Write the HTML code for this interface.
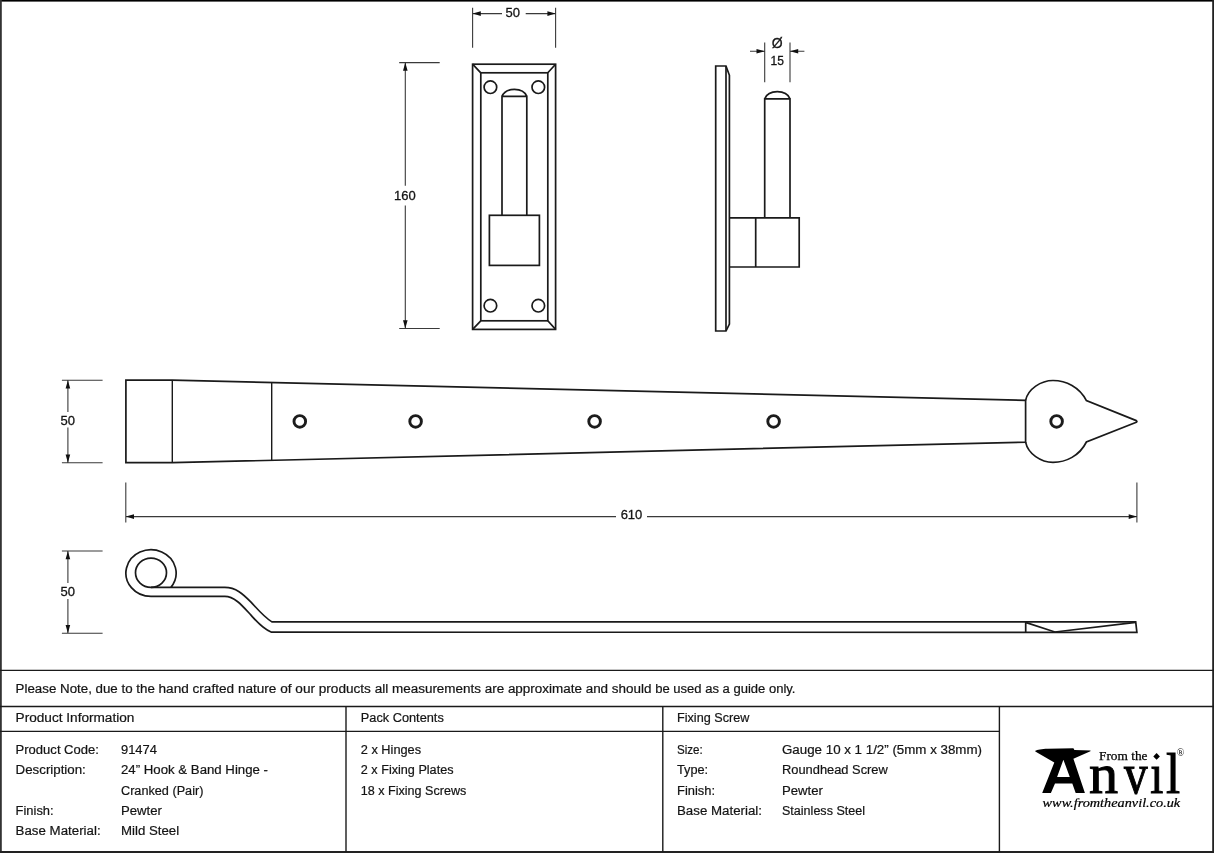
<!DOCTYPE html>
<html>
<head>
<meta charset="utf-8">
<title>24" Hook &amp; Band Hinge - Cranked (Pair)</title>
<style>
html,body{margin:0;padding:0;background:#fff;}
body{width:1214px;height:853px;overflow:hidden;font-family:"Liberation Sans",sans-serif;}
svg{display:block;position:absolute;left:0;top:0;will-change:transform;}
svg text{font-family:"Liberation Sans",sans-serif;fill:#141414;}
.t{font-size:12.3px;stroke:#141414;stroke-width:0.2px;}
.d{font-size:13px;text-anchor:middle;stroke:#141414;stroke-width:0.3px;}
.s{fill:none;stroke:#1a1a1a;stroke-width:1.7;stroke-linejoin:miter;}
.g{fill:none;stroke:#3a3a3a;stroke-width:1.1;}
.a{fill:#111;stroke:none;}
.b{stroke:#1a1a1a;stroke-width:1.4;fill:none;}
svg text.lg{font-family:"Liberation Serif",serif;font-size:56px;fill:#000;stroke:#000;stroke-width:1px;}
.h{fill:none;stroke:#1c1c1c;stroke-width:2.9;}
</style>
</head>
<body>
<svg width="1214" height="853" viewBox="0 0 1214 853">
<rect x="0" y="0" width="1214" height="853" fill="#fff"/>

<!-- ===== page frame ===== -->
<g id="frame">
<rect x="0" y="0" width="1214" height="1.6" fill="#000"/>
<rect x="0" y="0" width="1.8" height="853" fill="#333"/>
<rect x="1212.2" y="0" width="1.8" height="853" fill="#222"/>
<rect x="0" y="851" width="1214" height="2" fill="#222"/>
</g>

<!-- ===== table lines ===== -->
<g id="table" class="b">
<line x1="0" y1="670.4" x2="1214" y2="670.4"/>
<line x1="0" y1="706.5" x2="1214" y2="706.5"/>
<line x1="0" y1="731.4" x2="999.4" y2="731.4"/>
<line x1="346" y1="706.5" x2="346" y2="852"/>
<line x1="662.8" y1="706.5" x2="662.8" y2="852"/>
<line x1="999.4" y1="706.5" x2="999.4" y2="852"/>
</g>

<!-- ===== table text ===== -->
<g id="ttext" class="t">
<text x="15.6" y="692.8" textLength="139.2" lengthAdjust="spacingAndGlyphs">Please Note, due to the</text>
<text x="158.5" y="692.8" textLength="229.8" lengthAdjust="spacingAndGlyphs">hand crafted nature of our products all</text>
<text x="392" y="692.8" textLength="259.5" lengthAdjust="spacingAndGlyphs">measurements are approximate and should</text>
<text x="655.2" y="692.8" textLength="140.3" lengthAdjust="spacingAndGlyphs">be used as a guide only.</text>
<text x="15.6" y="722.4" textLength="118.8" lengthAdjust="spacingAndGlyphs">Product Information</text>
<text x="360.8" y="722.4" textLength="83" lengthAdjust="spacingAndGlyphs">Pack Contents</text>
<text x="677" y="722.4" textLength="72.3" lengthAdjust="spacingAndGlyphs">Fixing Screw</text>

<text x="15.6" y="754" textLength="83.3" lengthAdjust="spacingAndGlyphs">Product Code:</text>
<text x="121" y="754" textLength="35.9" lengthAdjust="spacingAndGlyphs">91474</text>
<text x="15.6" y="774.4" textLength="70.2" lengthAdjust="spacingAndGlyphs">Description:</text>
<text x="121" y="774.4" textLength="147" lengthAdjust="spacingAndGlyphs">24” Hook &amp; Band Hinge -</text>
<text x="121" y="794.8" textLength="82.4" lengthAdjust="spacingAndGlyphs">Cranked (Pair)</text>
<text x="15.6" y="815.1" textLength="38" lengthAdjust="spacingAndGlyphs">Finish:</text>
<text x="121" y="815.1" textLength="40.9" lengthAdjust="spacingAndGlyphs">Pewter</text>
<text x="15.6" y="835.4" textLength="85" lengthAdjust="spacingAndGlyphs">Base Material:</text>
<text x="121" y="835.4" textLength="58.1" lengthAdjust="spacingAndGlyphs">Mild Steel</text>

<text x="360.8" y="754" textLength="60.3" lengthAdjust="spacingAndGlyphs">2 x Hinges</text>
<text x="360.8" y="774.4" textLength="92.7" lengthAdjust="spacingAndGlyphs">2 x Fixing Plates</text>
<text x="360.8" y="794.8" textLength="105.5" lengthAdjust="spacingAndGlyphs">18 x Fixing Screws</text>

<text x="677" y="754" textLength="25.8" lengthAdjust="spacingAndGlyphs">Size:</text>
<text x="782" y="754" textLength="200" lengthAdjust="spacingAndGlyphs">Gauge 10 x 1 1/2” (5mm x 38mm)</text>
<text x="677" y="774.4" textLength="31.1" lengthAdjust="spacingAndGlyphs">Type:</text>
<text x="782" y="774.4" textLength="105.8" lengthAdjust="spacingAndGlyphs">Roundhead Screw</text>
<text x="677" y="794.8" textLength="38" lengthAdjust="spacingAndGlyphs">Finish:</text>
<text x="782" y="794.8" textLength="40.9" lengthAdjust="spacingAndGlyphs">Pewter</text>
<text x="677" y="815.1" textLength="85" lengthAdjust="spacingAndGlyphs">Base Material:</text>
<text x="782" y="815.1" textLength="83" lengthAdjust="spacingAndGlyphs">Stainless Steel</text>
</g>

<!-- ===== fixing plate : front view ===== -->
<g id="plate-front" class="s">
<rect x="472.6" y="64.2" width="83" height="265.2"/>
<rect x="480.8" y="72.8" width="67" height="248"/>
<path d="M472.6 64.2L480.8 72.8M555.6 64.2L547.8 72.8M472.6 329.4L480.8 320.8M555.6 329.4L547.8 320.8"/>
<circle cx="490.4" cy="87.2" r="6.3"/>
<circle cx="538.3" cy="87.2" r="6.3"/>
<circle cx="490.4" cy="305.7" r="6.3"/>
<circle cx="538.3" cy="305.7" r="6.3"/>
<path d="M502 215.3V96.4H526.8V215.3M502 96.4C504 91.5 509 89.4 514.4 89.4C519.8 89.4 524.8 91.5 526.8 96.4"/>
<rect x="489.4" y="215.3" width="50" height="50.1"/>
</g>
<!-- dims for front view -->
<g class="g">
<path d="M472.6 7.7V47.7M555.6 7.7V47.7M472.6 13.6H502M525.7 13.6H555.6"/>
<path d="M399.2 62.6H439.7M399.2 328.5H439.7M405.3 62.6V185.8M405.3 205.4V328.5"/>
</g>
<path class="a" d="M472.6 13.6l8.2-2.3v4.6zM555.6 13.6l-8.2-2.3v4.6zM405.3 62.6l-2.3 8.2h4.6zM405.3 328.5l-2.3-8.2h4.6z"/>
<text class="d" x="512.7" y="17.2">50</text>
<text class="d" x="404.8" y="200">160</text>

<!-- ===== fixing plate : side view ===== -->
<g id="plate-side" class="s">
<path d="M715.7 66H726L729.4 75.3V324L726 331H715.7Z"/>
<path d="M726 66V331"/>
<path d="M764.7 217.8V98.8H790V217.8M764.7 98.8C766.7 93.9 771.9 91.7 777.3 91.7C782.8 91.7 788 93.9 790 98.8"/>
<path d="M729.4 217.8H799.2V267H729.4M755.7 217.8V267"/>
</g>
<g class="g">
<path d="M764.7 42.5V82.3M790 42.5V82.3M750 51.2H764.7M790 51.2H804.4"/>
</g>
<path class="a" d="M764.7 51.2l-8.2-2.3v4.6zM790 51.2l8.2-2.3v4.6z"/>
<text class="d" x="777.3" y="47.8" style="font-size:14px">Ø</text>
<text class="d" x="777.3" y="64.8" style="font-size:12px">15</text>

<!-- ===== band : top view ===== -->
<g id="band-top" class="s">
<path d="M125.9 380.1H172.3L1025.6 400.4V442.1L172.3 462.7H125.9Z"/>
<path d="M172.3 380.1V462.7M271.7 382.6V460" style="stroke-width:1.4"/>
<path d="M1025.6 400.4C1028 389 1041 380.5 1053 380.5C1066 380.5 1079.5 387 1086.4 400.6L1136.3 420.6Q1137.6 421.4 1136.3 422.2L1086.4 442C1079.5 455.8 1066 462.4 1053 462.4C1041 462.4 1028 453.8 1025.6 442.1"/>
</g>
<g class="h">
<circle cx="299.8" cy="421.4" r="5.8"/>
<circle cx="415.6" cy="421.4" r="5.8"/>
<circle cx="594.6" cy="421.4" r="5.8"/>
<circle cx="773.6" cy="421.4" r="5.8"/>
<circle cx="1056.6" cy="421.4" r="5.8"/>
</g>
<g class="g">
<path d="M61.9 380.2H102.6M61.9 462.8H102.6M67.9 380.2V412M67.9 427.6V462.8"/>
<path d="M125.8 482.4V522.5M1136.9 482.4V522.5M125.8 516.6H616M647 516.6H1136.9"/>
<path d="M61.9 551H102.6M61.9 633.3H102.6M67.9 551V583M67.9 599V633.3"/>
</g>
<path class="a" d="M67.9 380.2l-2.3 8.2h4.6zM67.9 462.8l-2.3-8.2h4.6zM67.9 551l-2.3 8.2h4.6zM67.9 633.3l-2.3-8.2h4.6zM125.8 516.6l8.2-2.3v4.6zM1136.9 516.6l-8.2-2.3v4.6z"/>
<text class="d" x="67.7" y="425">50</text>
<text class="d" x="67.7" y="595.5">50</text>
<text class="d" x="631.5" y="519">610</text>

<!-- ===== band : side view ===== -->
<g id="band-side" class="s">
<ellipse cx="151" cy="572.8" rx="15.5" ry="14.6"/>
<path d="M170.8 587.4A25.1 23.35 0 1 0 151 596.4L224.8 596.4C235 596.4 243 606.5 251 615.2C257 621.8 263 629 271.5 632.2L1136.9 632.3L1135.7 621.9L271.9 621.9C264 617 257 608.5 251 602.1C243 594 236 587.4 224.8 587.4L151 587.4"/>
<path d="M1025.7 621.9V632.3M1026.3 622.6L1054.9 632L1135.7 622.4"/>
</g>

<!-- ===== From the Anvil logo ===== -->
<g id="logo">
<path fill="#000" d="M1035.3 750.8C1037 749.6 1042 748.9 1047.6 748.7L1073.4 748.3L1074.4 750.1L1090.6 750.5L1090.4 751.2L1073.4 758.7L1084.9 792.9H1075.7L1072.3 783.4H1055L1050.9 792.9H1042.2L1054.3 762.4L1035.3 751.4ZM1063.4 759.7L1057.1 776.9H1069.8Z" fill-rule="evenodd"/>
<g>
<text transform="translate(1088.96 792.9) scale(1.04 1)" class="lg">n</text>
<text transform="translate(1123.9 792.9) scale(0.843 1)" class="lg">v</text>
<text transform="translate(1150.26 792.9) scale(0.843 1)" class="lg">ı</text>
<text transform="translate(1166.1 792.9) scale(0.907 1)" class="lg">l</text>
</g>
<path fill="#000" d="M1156.6 753.1l3.3 3.3l-3.3 3.3l-3.3-3.3z"/>
<text x="1099" y="759.6" style="font-family:'Liberation Serif',serif;font-size:13.3px;fill:#000;stroke:#000;stroke-width:0.25px" textLength="48.5" lengthAdjust="spacingAndGlyphs">From the</text>
<text x="1176.7" y="756" style="font-family:'Liberation Serif',serif;font-size:10px;fill:#000">®</text>
<text x="1042.6" y="806.6" style="font-family:'Liberation Serif',serif;font-style:italic;font-size:12px;fill:#000;stroke:#000;stroke-width:0.2px" textLength="137.6" lengthAdjust="spacingAndGlyphs">www.fromtheanvil.co.uk</text>
</g>

</svg>
</body>
</html>
